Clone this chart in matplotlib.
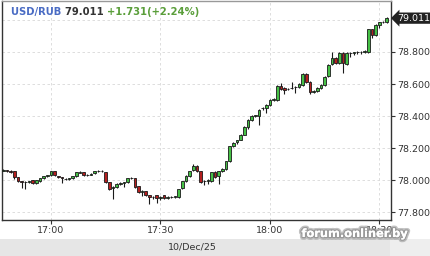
import numpy as np
import pandas as pd
import matplotlib
matplotlib.use('Agg')
import matplotlib.pyplot as plt
import matplotlib.dates as mdates
import matplotlib.patheffects as pe
from matplotlib.patches import Rectangle

# 1-minute candles, USD/RUB 10/Dec/25
start = '2025-12-10 16:47'
opens = [78.060, 78.064, 78.058, 78.056, 78.019, 77.994, 77.990, 77.988, 78.000, 77.981,
         77.994, 78.012, 78.025, 78.031, 78.056, 78.025, 78.019, 78.010, 78.006, 78.012,
         78.025, 78.048, 78.050, 78.031, 78.034, 78.043, 78.056, 78.058, 78.050, 77.988,
         77.950, 77.957, 77.978, 77.984, 77.988, 78.012, 78.012, 77.962, 77.926, 77.932,
         77.907, 77.895, 77.907, 77.892, 77.907, 77.892, 77.895, 77.895, 77.895, 77.950,
         77.994, 78.025, 78.062, 78.087, 78.056, 77.994, 77.997, 77.994, 78.050, 78.025,
         78.056, 78.068, 78.118, 78.211, 78.240, 78.254, 78.285, 78.334, 78.378, 78.400,
         78.402, 78.448, 78.452, 78.471, 78.500, 78.502, 78.588, 78.576, 78.568, 78.574,
         78.580, 78.582, 78.594, 78.663, 78.613, 78.551, 78.557, 78.576, 78.594, 78.650,
         78.724, 78.762, 78.731, 78.793, 78.724, 78.793, 78.795, 78.797, 78.799, 78.801,
         78.799, 78.941, 78.904, 78.966, 78.985, 78.985]
closes = [78.064, 78.058, 78.052, 78.019, 77.994, 77.990, 77.988, 77.994, 77.981, 78.000,
          78.012, 78.025, 78.031, 78.056, 78.031, 78.019, 78.012, 78.006, 78.012, 78.025,
          78.050, 78.052, 78.031, 78.034, 78.037, 78.056, 78.058, 78.056, 77.988, 77.944,
          77.957, 77.975, 77.981, 77.988, 78.012, 78.015, 77.957, 77.926, 77.932, 77.907,
          77.895, 77.898, 77.889, 77.895, 77.889, 77.895, 77.898, 77.900, 77.944, 77.994,
          78.025, 78.056, 78.087, 78.056, 77.988, 77.997, 78.003, 78.050, 78.019, 78.056,
          78.068, 78.118, 78.211, 78.235, 78.248, 78.285, 78.334, 78.378, 78.402, 78.404,
          78.440, 78.452, 78.471, 78.502, 78.504, 78.588, 78.570, 78.563, 78.570, 78.576,
          78.582, 78.601, 78.663, 78.613, 78.551, 78.554, 78.576, 78.594, 78.644, 78.718,
          78.762, 78.731, 78.793, 78.731, 78.793, 78.795, 78.797, 78.799, 78.801, 78.805,
          78.941, 78.904, 78.966, 78.985, 78.990, 79.011]
highs = [78.068, 78.066, 78.062, 78.058, 78.022, 77.998, 77.994, 77.998, 78.003, 78.004,
         78.016, 78.028, 78.035, 78.060, 78.058, 78.028, 78.022, 78.014, 78.016, 78.028,
         78.053, 78.056, 78.054, 78.040, 78.046, 78.060, 78.062, 78.062, 78.054, 77.990,
         77.962, 77.980, 77.986, 77.992, 78.016, 78.022, 78.016, 77.966, 77.938, 77.936,
         77.910, 77.904, 77.910, 77.900, 77.910, 77.900, 77.902, 77.904, 77.948, 77.998,
         78.030, 78.060, 78.100, 78.092, 78.060, 78.002, 78.008, 78.054, 78.056, 78.060,
         78.074, 78.122, 78.216, 78.240, 78.254, 78.290, 78.340, 78.384, 78.410, 78.410,
         78.446, 78.458, 78.476, 78.508, 78.510, 78.594, 78.607, 78.580, 78.576, 78.613,
         78.588, 78.606, 78.668, 78.668, 78.618, 78.560, 78.582, 78.600, 78.650, 78.724,
         78.800, 78.768, 78.798, 78.800, 78.798, 78.800, 78.802, 78.804, 78.806, 78.810,
         78.946, 78.946, 78.972, 78.990, 78.996, 79.016]
lows = [78.056, 78.050, 78.046, 78.010, 77.988, 77.950, 77.944, 77.982, 77.975, 77.978,
        77.990, 78.008, 78.020, 78.028, 78.026, 78.014, 77.985, 78.000, 78.002, 78.008,
        78.022, 78.044, 78.028, 78.026, 78.030, 78.040, 78.052, 78.050, 77.982, 77.938,
        77.882, 77.950, 77.972, 77.957, 77.984, 78.006, 77.952, 77.920, 77.900, 77.900,
        77.851, 77.880, 77.860, 77.876, 77.882, 77.886, 77.890, 77.890, 77.890, 77.946,
        77.990, 78.020, 78.058, 78.050, 77.982, 77.969, 77.975, 77.990, 78.012, 77.975,
        78.050, 78.062, 78.112, 78.205, 78.225, 78.248, 78.280, 78.318, 78.372, 78.395,
        78.345, 78.436, 78.420, 78.466, 78.494, 78.496, 78.564, 78.540, 78.560, 78.568,
        78.545, 78.576, 78.590, 78.607, 78.539, 78.545, 78.550, 78.570, 78.588, 78.645,
        78.718, 78.725, 78.726, 78.669, 78.718, 78.770, 78.780, 78.785, 78.790, 78.795,
        78.794, 78.885, 78.898, 78.950, 78.978, 78.980]

last_price = '79.011'
change = '+1.731(+2.24%)'

times = pd.date_range(start, periods=len(closes), freq='min')
t = mdates.date2num(times)
o = np.array(opens); c = np.array(closes)
h = np.array(highs); l = np.array(lows)

fig = plt.figure(figsize=(4.30, 2.56), dpi=100)
fig.patch.set_facecolor('white')
# серая полоса внизу
fig.patches.append(Rectangle((0, 0), 390/430, 17/256, transform=fig.transFigure,
                             facecolor='#e6e6e6', edgecolor='none', zorder=0))
fig.patches.append(Rectangle((390/430, 0), 40/430, 17/256, transform=fig.transFigure,
                             facecolor='#eeeeee', edgecolor='none', zorder=0))

ax = fig.add_axes([2/430, 1 - 220/256, 388.7/430, 219/256])
ax.set_facecolor('white')

one_min = 1 / 1440
ax.set_xlim(mdates.date2num(pd.Timestamp('2025-12-10 16:46:36')),
            mdates.date2num(pd.Timestamp('2025-12-10 18:33:06')))
ax.set_ylim(77.752, 79.118)

# свечи
up = c >= o
ax.vlines(t, l, h, color='#1a1a1a', lw=0.8, zorder=2)
body_lo = np.minimum(o, c)
body_h = np.maximum(np.abs(c - o), 0.0025)
ax.bar(t[up], body_h[up], bottom=body_lo[up], width=0.72 * one_min,
       color='#45c045', edgecolor='#1a1a1a', linewidth=0.6, zorder=3)
ax.bar(t[~up], body_h[~up], bottom=body_lo[~up], width=0.72 * one_min,
       color='#b31f1f', edgecolor='#1a1a1a', linewidth=0.6, zorder=3)

# оси
ax.yaxis.tick_right()
ax.set_yticks(np.arange(77.8, 78.81, 0.2))
ax.set_yticks([79.0], minor=True)
ax.yaxis.set_major_formatter(plt.FormatStrFormatter('%.3f'))
ax.xaxis.set_major_locator(mdates.MinuteLocator(byminute=[0, 30]))
ax.xaxis.set_major_formatter(mdates.DateFormatter('%H:%M'))
ax.tick_params(axis='both', which='major', labelsize=6.8, labelcolor='#333333',
               color='#333333', length=3, width=0.8, pad=1.5)
ax.tick_params(axis='y', which='minor', length=0)
ax.grid(True, which='both', color='#d8d8d8', linestyle=(0, (3, 3)), linewidth=0.6)
ax.set_axisbelow(True)
for s in ax.spines.values():
    s.set_color('#333333')
    s.set_linewidth(1.0)
ax.spines['top'].set_color('#999999')

# метка текущей цены
ax.text(1.016, float(last_price), last_price, transform=ax.get_yaxis_transform(),
        ha='left', va='center', fontsize=6.8, color='white',
        bbox=dict(boxstyle='larrow,pad=0.12', facecolor='#222222', edgecolor='none'))

# заголовок
x0 = 11 / 430
yt = 1 - 12 / 256
t1 = fig.text(x0, yt, 'USD/RUB ', fontsize=7.2, fontweight='bold', color='#4a6cc4', va='center')
fig.canvas.draw()
bb = t1.get_window_extent()
t2 = fig.text(bb.x1 / 430, yt, last_price + ' ', fontsize=7.2, fontweight='bold',
              color='#333333', va='center')
bb = t2.get_window_extent()
fig.text(bb.x1 / 430, yt, change, fontsize=7.2, fontweight='bold', color='#5a9e3a', va='center')

fig.text(192 / 430, 1 - 247 / 256, '10/Dec/25', fontsize=6.8, color='#333333',
         ha='center', va='center')

# водяной знак
fig.text(355 / 430, 1 - 234 / 256, 'forum.onliner.by', fontsize=8.2, fontweight='bold',
         color='white', ha='center', va='center', zorder=10,
         path_effects=[pe.withStroke(linewidth=4, foreground='#9a9a9a', alpha=0.6),
                       pe.withStroke(linewidth=2, foreground='#8a8a8a', alpha=0.7),
                       pe.Normal()])

plt.savefig('out.png', dpi=100)
